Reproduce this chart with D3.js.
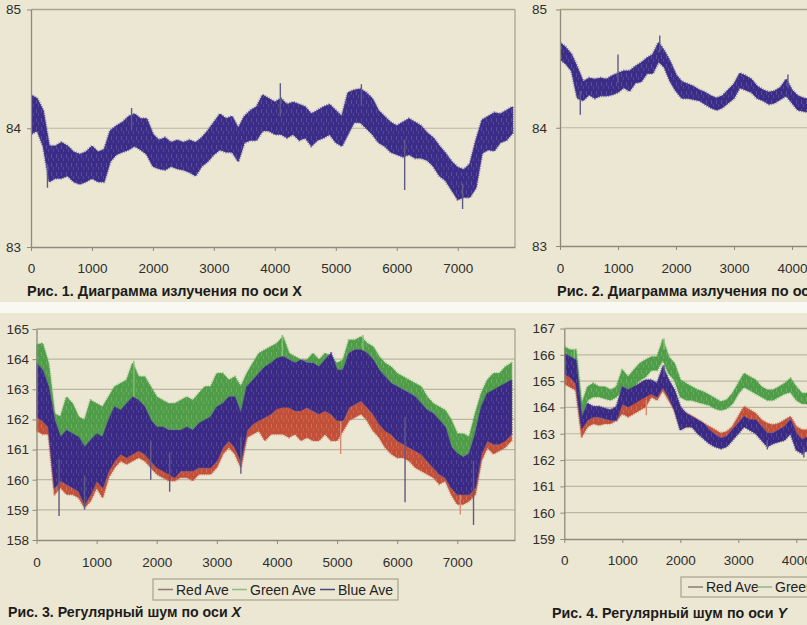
<!DOCTYPE html>
<html><head><meta charset="utf-8">
<script src="https://cdn.jsdelivr.net/npm/d3@7"></script>
<style>body{margin:0;background:#ece7d2;} svg{display:block}</style>
</head><body><svg id="c" width="807" height="625"></svg>
<script>
const sampleStep = 100;
const xTickValuesFull = [0,1000,2000,3000,4000,5000,6000,7000];
const xTickValuesCut = [0,1000,2000,3000,4000];

// Fig.1 – emission along X (band low / high)
const fig1Lo = [83.95,83.98,83.85,83.55,83.58,83.58,83.6,83.55,83.53,83.55,
 83.58,83.55,83.55,83.72,83.78,83.8,83.82,83.85,83.82,83.78,
 83.68,83.66,83.65,83.68,83.66,83.65,83.63,83.6,83.68,83.72,
 83.78,83.82,83.8,83.8,83.72,83.88,83.9,83.9,83.98,83.98,
 83.95,83.95,83.92,83.95,83.9,83.92,83.85,83.9,83.92,83.95,
 83.88,83.85,83.95,84.05,84.05,84.0,83.95,83.88,83.85,83.8,
 83.78,83.76,83.78,83.75,83.75,83.73,83.68,83.6,83.56,83.48,
 83.4,83.42,83.42,83.5,83.79,83.82,83.81,83.88,83.9,83.96];
const fig1Hi = [84.28,84.25,84.15,83.85,83.85,83.88,83.85,83.8,83.78,83.8,
 83.85,83.8,83.82,83.98,84.02,84.05,84.1,84.12,84.08,84.08,
 83.95,83.9,83.92,83.88,83.9,83.88,83.9,83.88,83.92,83.98,
 84.05,84.12,84.08,84.1,84.0,84.1,84.15,84.18,84.28,84.25,
 84.22,84.25,84.2,84.22,84.2,84.18,84.12,84.15,84.18,84.2,
 84.15,84.1,84.3,84.32,84.33,84.3,84.25,84.15,84.1,84.05,
 84.02,84.05,84.08,84.05,84.02,83.96,83.92,83.85,83.79,83.72,
 83.67,83.65,83.7,83.9,84.07,84.1,84.13,84.12,84.15,84.18];
const fig1Spikes = [[270,83.5],[1650,84.17],[4090,84.38],[5420,84.37],[6130,83.48],[7080,83.32]];

// Fig.2 – emission along Y
const fig2Lo = [84.58,84.54,84.48,84.25,84.23,84.28,84.25,84.27,84.27,84.28,
 84.3,84.34,84.31,84.38,84.39,84.46,84.46,84.56,84.51,84.39,
 84.31,84.25,84.25,84.24,84.23,84.2,84.17,84.15,84.17,84.21,
 84.25,84.34,84.32,84.3,84.25,84.23,84.2,84.21,84.24,84.27,
 84.21,84.15,84.14,84.13];
const fig2Hi = [84.72,84.68,84.62,84.51,84.39,84.42,84.41,84.42,84.41,84.44,
 84.46,84.48,84.48,84.52,84.55,84.59,84.62,84.72,84.65,84.56,
 84.45,84.39,84.37,84.35,84.32,84.3,84.27,84.25,84.27,84.32,
 84.37,84.46,84.44,84.41,84.35,84.32,84.3,84.31,84.34,84.41,
 84.32,84.27,84.25,84.24];
const fig2Spikes = [[350,84.11],[1000,84.62],[1720,84.78],[3930,84.45]];

// Fig.3 – regular noise along X (Red / Green / Blue averages)
const fig3RedLo = [161.63,161.52,161.52,159.52,159.74,159.52,159.52,159.41,159.08,159.3,
 159.74,159.41,160.08,160.41,160.63,160.52,160.63,160.74,160.63,160.41,
 160.19,160.08,159.97,159.97,160.08,160.08,159.97,160.19,160.19,160.19,
 160.41,160.86,161.08,160.86,160.41,161.41,161.52,161.63,161.3,161.52,
 161.52,161.52,161.41,161.52,161.3,161.41,161.3,161.3,161.52,161.3,
 161.3,161.63,161.97,162.08,162.19,161.97,161.63,161.41,161.08,160.86,
 160.74,160.74,160.63,160.41,160.3,160.19,160.08,159.86,159.97,159.52,
 159.19,159.19,159.3,159.52,160.63,161.08,160.86,160.97,161.08,161.3];
const fig3RedHi = [162.7,162.55,162.35,160.35,160.55,160.45,160.35,160.25,159.8,160.1,
 160.55,160.35,160.9,161.25,161.45,161.35,161.45,161.55,161.45,161.25,
 161.0,160.9,160.8,160.7,160.9,160.9,160.9,161.0,161.0,161.0,
 161.25,161.7,161.9,161.7,161.25,162.25,162.45,162.55,162.7,162.8,
 162.95,163.0,163.0,162.9,162.9,163.0,162.9,162.8,162.9,162.8,
 162.55,162.55,163.0,163.1,163.25,163.0,162.8,162.45,162.25,162.1,
 161.9,161.8,161.7,161.55,161.45,161.25,161.0,160.8,160.7,160.35,
 160.1,160.1,160.1,160.35,161.45,161.9,161.8,161.8,161.9,162.1];
const fig3GreenLo = [162.6,162.5,162.25,160.25,160.5,160.35,160.25,160.15,159.7,160.0,
 160.5,160.25,160.8,161.15,161.35,161.25,161.35,161.5,161.35,161.15,
 160.9,160.8,160.7,160.6,160.8,160.8,160.8,160.9,160.9,160.9,
 161.15,161.6,161.8,161.6,161.15,162.15,162.35,162.5,162.6,162.7,
 162.85,162.9,162.9,162.8,162.8,162.9,162.8,162.7,162.8,162.7,
 162.5,162.5,162.9,163.0,163.15,162.9,162.7,162.35,162.15,162.0,
 161.8,161.7,161.6,161.5,161.35,161.15,160.9,160.7,160.6,160.25,
 160.0,160.0,160.0,160.25,161.35,161.8,161.7,161.7,161.8,162.0];
const fig3GreenHi = [164.47,164.52,163.86,162.19,162.08,162.74,162.52,162.08,161.97,162.63,
 162.52,162.41,162.74,163.08,163.19,163.3,163.86,163.41,163.41,163.08,
 162.74,162.63,162.52,162.52,162.63,162.74,162.63,162.86,163.08,163.08,
 163.52,163.52,163.3,163.41,163.08,163.52,163.86,164.19,164.3,164.41,
 164.52,164.74,164.19,164.08,163.97,163.97,164.19,163.97,164.19,164.08,
 163.86,163.97,164.63,164.63,164.74,164.52,164.41,164.08,163.86,163.74,
 163.52,163.41,163.3,163.19,163.08,162.74,162.52,162.41,162.3,161.97,
 161.52,161.52,161.41,162.19,162.86,163.3,163.52,163.52,163.74,163.86];
const fig3BlueLo = [162.08,161.97,161.74,159.74,159.97,159.86,159.74,159.63,159.19,159.52,
 159.97,159.74,160.3,160.63,160.86,160.74,160.86,160.97,160.86,160.63,
 160.41,160.3,160.19,160.08,160.3,160.3,160.3,160.41,160.41,160.41,
 160.63,161.08,161.3,161.08,160.63,161.63,161.86,161.97,162.08,162.19,
 162.36,162.41,162.41,162.3,162.3,162.41,162.3,162.19,162.3,162.19,
 161.97,161.97,162.41,162.52,162.63,162.41,162.19,161.86,161.63,161.52,
 161.3,161.19,161.08,160.97,160.86,160.63,160.41,160.19,160.08,159.74,
 159.52,159.52,159.52,159.74,160.86,161.3,161.19,161.19,161.3,161.52];
const fig3BlueHi = [163.86,163.63,163.08,161.97,161.41,161.63,161.52,161.41,161.08,161.3,
 161.52,161.41,161.97,162.41,162.3,162.52,162.74,162.63,162.41,161.97,
 161.74,161.74,161.63,161.63,161.63,161.74,161.63,161.86,161.97,162.08,
 162.41,162.52,162.74,162.74,162.19,163.08,163.3,163.52,163.74,163.86,
 164.02,164.08,163.97,163.86,163.97,163.86,163.86,163.74,163.97,164.19,
 163.63,163.63,164.19,164.3,164.3,164.19,163.97,163.63,163.41,163.19,
 163.08,162.97,162.86,162.74,162.52,162.3,162.19,161.97,161.74,161.08,
 160.86,160.74,160.86,161.52,162.41,162.86,162.97,163.08,163.19,163.3];
const fig3Spikes = [["Blue",375,158.8],["Blue",800,159.0],["Blue",1900,160.0],["Blue",2215,159.6],
 ["Blue",3400,160.2],["Blue",6131,159.25],["Blue",7270,158.5],["Red",7050,158.85],["Red",5060,160.85],
 ["Green",4090,164.8],["Green",5430,164.8],["Green",1620,163.95]];

// Fig.4 – regular noise along Y
const fig4RedLo = [164.91,164.78,164.66,162.9,163.27,163.39,163.33,163.39,163.39,163.52,
 163.77,163.65,163.77,163.9,164.03,164.41,164.28,164.66,164.28,163.9,
 163.27,163.27,163.27,163.14,162.95,162.89,162.76,162.63,162.76,162.89,
 163.27,163.52,163.39,163.27,163.01,162.95,162.89,163.01,163.08,163.27,
 162.76,162.76,162.76,162.7];
const fig4RedHi = [165.54,165.42,165.29,163.3,163.77,163.77,163.71,163.71,163.77,163.84,
 164.28,164.15,164.28,164.53,164.53,164.91,164.78,165.29,164.91,164.53,
 163.9,163.77,163.65,163.52,163.39,163.27,163.14,163.01,163.08,163.27,
 163.65,164.03,163.9,163.77,163.52,163.39,163.33,163.39,163.52,163.65,
 163.27,163.14,163.14,163.14];
const fig4GreenLo = [165.8,165.67,165.42,163.6,164.28,164.41,164.41,164.34,164.28,164.41,
 164.66,164.53,164.78,165.04,165.16,165.42,165.42,165.8,165.29,165.04,
 164.41,164.28,164.28,164.21,164.15,164.09,163.96,163.9,163.96,164.15,
 164.53,164.78,164.66,164.53,164.41,164.28,164.28,164.41,164.53,164.59,
 164.28,164.15,164.15,164.09];
const fig4GreenHi = [166.3,166.18,166.18,164.1,164.78,164.91,164.78,164.78,164.66,164.78,
 165.42,165.16,165.42,165.67,165.8,165.92,165.92,166.56,165.92,165.67,
 165.04,164.91,164.78,164.66,164.59,164.47,164.34,164.21,164.28,164.53,
 164.91,165.29,165.16,165.04,164.78,164.66,164.66,164.78,164.91,165.1,
 164.78,164.53,164.53,164.47];
const fig4BlueLo = [165.29,165.16,164.91,163.2,163.52,163.65,163.65,163.58,163.52,163.52,
 164.15,164.03,164.15,164.28,164.41,164.53,164.41,164.78,164.41,163.9,
 163.14,163.27,163.27,163.01,162.82,162.63,162.51,162.44,162.51,162.76,
 163.01,163.27,163.14,163.01,162.76,162.51,162.63,162.7,162.76,163.01,
 162.38,162.25,162.38,162.32];
const fig4BlueHi = [166.05,165.92,165.8,163.6,164.15,164.03,164.03,163.96,163.9,164.03,
 164.78,164.66,164.78,164.91,165.04,165.04,164.91,165.54,165.04,164.66,
 164.03,163.77,163.65,163.52,163.39,163.14,162.95,162.82,162.89,163.14,
 163.39,163.65,163.52,163.52,163.27,163.01,163.01,163.14,163.27,163.52,
 163.01,162.76,162.89,162.82];
const fig4Spikes = [["Red",1414,163.7],["Green",1720,166.62],["Blue",1720,165.6],["Green",172,166.2],["Blue",3500,162.4],["Blue",4130,162.1]];

const legendNames = ["Red Ave","Green Ave","Blue Ave"];
const captions = [
  {pre:"Рис. 1. Диаграмма излучения по оси ", ax:"X", italic:false},
  {pre:"Рис. 2. Диаграмма излучения по оси ", ax:"Y", italic:false},
  {pre:"Рис. 3. Регулярный шум по оси ", ax:"X", italic:true},
  {pre:"Рис. 4. Регулярный шум по оси ", ax:"Y", italic:true}
];

// ---------------- STYLE ----------------
const BG = "#ece7d2";
const COL = {Red:"#c24f38", Green:"#4f9d48", Blue:"#3a2a85", Single:"#3b2c88"};
const LIGHT = {Red:"#d98a72", Green:"#86c079", Blue:"#6d68a0", Single:"#756eab"};
const LEG = {Red:"#8b7b72", Green:"#8fb98a", Blue:"#4b4670"};
const GRID = "#bcb6a2", AXIS = "#8e897a", BORDER = "#aaa48f", TXT = "#2e2e2e";
const FONT = "'Liberation Sans', Arial, sans-serif";

const svg = d3.select("#c");
const defs = svg.append("defs");
// subtle noise-like texture patterns (solid body with light flecks)
Object.keys(COL).forEach(k=>{
  const p = defs.append("pattern").attr("id","pat"+k).attr("patternUnits","userSpaceOnUse")
    .attr("width",5).attr("height",9);
  p.append("rect").attr("width",5).attr("height",9).attr("fill",COL[k]);
  p.append("rect").attr("x",1).attr("y",1).attr("width",1).attr("height",4).attr("fill",LIGHT[k]).attr("fill-opacity",0.5);
  p.append("rect").attr("x",3).attr("y",5).attr("width",1).attr("height",3).attr("fill",LIGHT[k]).attr("fill-opacity",0.4);
});

svg.append("rect").attr("width",807).attr("height",625).attr("fill",BG);
svg.append("rect").attr("y",302).attr("width",807).attr("height",11).attr("fill","#f9f8f3");

let clipId = 0;
function panel(cfg){
  const g = svg.append("g");
  const x = d3.scaleLinear().domain(cfg.xDomain).range(cfg.xRange);
  const y = d3.scaleLinear().domain(cfg.yDomain).range(cfg.yRange);
  const x0 = cfg.xRange[0], x1 = cfg.xRange[1];
  g.append("g").selectAll("line").data(cfg.yTicks.slice(1,-1)).join("line")
    .attr("x1",x0).attr("x2",x1).attr("y1",d=>y(d)).attr("y2",d=>y(d))
    .attr("stroke",GRID).attr("stroke-width",1.2);
  g.append("line").attr("x1",x0).attr("x2",x1).attr("y1",y(cfg.yDomain[1])).attr("y2",y(cfg.yDomain[1]))
    .attr("stroke",BORDER).attr("stroke-width",1.3);
  g.append("line").attr("x1",x1).attr("x2",x1).attr("y1",y(cfg.yDomain[1])).attr("y2",y(cfg.yDomain[0]))
    .attr("stroke",BORDER).attr("stroke-width",1.3);
  const id = "clip"+(clipId++);
  svg.append("clipPath").attr("id",id).append("rect")
    .attr("x",x0).attr("y",cfg.yRange[1]).attr("width",x1-x0).attr("height",cfg.yRange[0]-cfg.yRange[1]);
  const plot = g.append("g").attr("clip-path",`url(#${id})`);
  cfg.series.forEach(s=>{
    const data = s.lo.map((lo,i)=>({x:i*sampleStep, lo, hi:s.hi[i]}));
    const area = d3.area().x(d=>x(d.x)).y0(d=>y(d.lo)).y1(d=>y(d.hi));
    plot.append("path").attr("d",area(data)).attr("fill","none")
      .attr("stroke",LIGHT[s.key]).attr("stroke-width",3).attr("stroke-dasharray","1 1.3")
      .attr("stroke-opacity",0.8).attr("stroke-linejoin","round");
    plot.append("path").attr("d",area(data)).attr("fill",`url(#pat${s.key})`)
      .attr("stroke",COL[s.key]).attr("stroke-width",0.8).attr("stroke-linejoin","bevel");
    (s.spikes||[]).forEach(sp=>{
      const i = Math.min(data.length-1, Math.round(sp[0]/sampleStep));
      const mid = (data[i].lo+data[i].hi)/2;
      plot.append("line").attr("x1",x(sp[0])).attr("x2",x(sp[0]))
        .attr("y1",y(mid)).attr("y2",y(sp[1]))
        .attr("stroke",s.key==="Blue"||s.key==="Single" ? "#5f5a86" : LIGHT[s.key]).attr("stroke-width",1.4);
    });
  });
  const fmt = d3.format("d");
  const ax = g.append("g").attr("transform",`translate(0,${cfg.yRange[0]})`)
    .call(d3.axisBottom(x).tickValues(cfg.xTicks).tickFormat(fmt).tickSize(4).tickSizeOuter(0).tickPadding(cfg.xPad));
  const ay = g.append("g").attr("transform",`translate(${x0},0)`)
    .call(d3.axisLeft(y).tickValues(cfg.yTicks).tickFormat(fmt).tickSize(4).tickSizeOuter(0).tickPadding(cfg.yPad));
  [ax,ay].forEach(a=>{
    a.select(".domain").attr("stroke",AXIS).attr("stroke-width",1.3);
    a.selectAll(".tick line").attr("stroke",AXIS);
    a.selectAll(".tick text").attr("fill",TXT).attr("font-size","13.5px").attr("font-family",FONT);
  });
}

panel({xDomain:[0,7940], xRange:[31,515], yDomain:[83,85], yRange:[247,9.5], yTicks:[83,84,85], xTicks:xTickValuesFull, xPad:12, yPad:6,
  series:[{key:"Single", lo:fig1Lo, hi:fig1Hi, spikes:fig1Spikes}]});
panel({xDomain:[0,7940], xRange:[560,1020.5], yDomain:[83,85], yRange:[246,9.5], yTicks:[83,84,85], xTicks:xTickValuesCut, xPad:13, yPad:9,
  series:[{key:"Single", lo:fig2Lo, hi:fig2Hi, spikes:fig2Spikes}]});
const sp3 = k=>fig3Spikes.filter(d=>d[0]===k).map(d=>[d[1],d[2]]);
const sp4 = k=>fig4Spikes.filter(d=>d[0]===k).map(d=>[d[1],d[2]]);
panel({xDomain:[0,7960], xRange:[36.5,515], yDomain:[158,165], yRange:[540,329], yTicks:d3.range(158,166), xTicks:xTickValuesFull, xPad:13, yPad:3.5,
  series:[{key:"Red", lo:fig3RedLo, hi:fig3RedHi, spikes:sp3("Red")},
          {key:"Green", lo:fig3GreenLo, hi:fig3GreenHi, spikes:sp3("Green")},
          {key:"Blue", lo:fig3BlueLo, hi:fig3BlueHi, spikes:sp3("Blue")}]});
panel({xDomain:[0,7960], xRange:[564.3,1026], yDomain:[159,167], yRange:[539,328.5], yTicks:d3.range(159,168), xTicks:xTickValuesCut, xPad:12, yPad:5.3,
  series:[{key:"Red", lo:fig4RedLo, hi:fig4RedHi, spikes:sp4("Red")},
          {key:"Green", lo:fig4GreenLo, hi:fig4GreenHi, spikes:sp4("Green")},
          {key:"Blue", lo:fig4BlueLo, hi:fig4BlueHi, spikes:sp4("Blue")}]});

function legend(bx, by, bw, bh, items){
  const g = svg.append("g");
  g.append("rect").attr("x",bx).attr("y",by).attr("width",bw).attr("height",bh)
    .attr("fill","none").attr("stroke","#a7a18e").attr("stroke-width",1.2);
  items.forEach(it=>{
    g.append("line").attr("x1",it.lx).attr("x2",it.lx+15).attr("y1",by+bh/2).attr("y2",by+bh/2)
      .attr("stroke",LEG[it.key]).attr("stroke-width",1.5);
    g.append("text").attr("x",it.lx+18).attr("y",by+bh/2+5).text(it.name)
      .attr("font-size","14px").attr("font-family",FONT).attr("fill","#222");
  });
}
const keys = ["Red","Green","Blue"];
legend(153,579,245,21,[{lx:158},{lx:232},{lx:320}].map((d,i)=>({...d,key:keys[i],name:legendNames[i]})));
legend(681,577,200,20,[{lx:688},{lx:757},{lx:845}].map((d,i)=>({...d,key:keys[i],name:legendNames[i]})));

const capPos = [[27,296,275],[557,296,275],[8,617,233],[552,618,235]];
captions.forEach((c,i)=>{
  const t = svg.append("text").attr("x",capPos[i][0]).attr("y",capPos[i][1])
    .attr("font-size","14px").attr("font-weight","bold").attr("font-family",FONT).attr("fill","#1c1c1c")
    .attr("textLength",capPos[i][2]).attr("lengthAdjust","spacingAndGlyphs");
  t.append("tspan").text(c.pre);
  t.append("tspan").text(c.ax).attr("font-style",c.italic?"italic":"normal");
});
</script></body></html>
